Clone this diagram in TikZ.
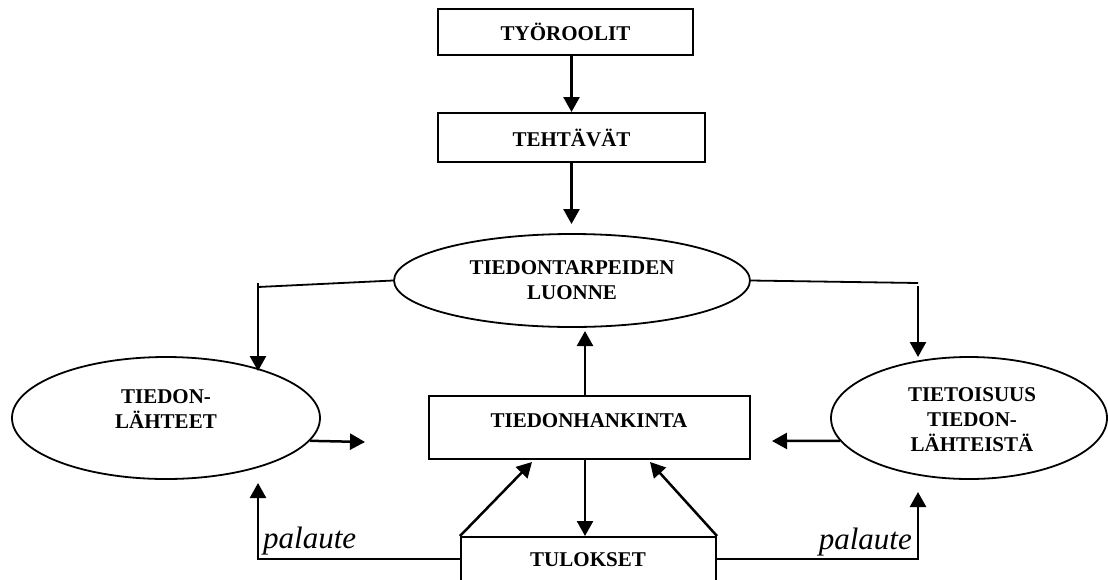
\documentclass[tikz,border=0pt]{standalone}
\usepackage{fontspec}
\setmainfont{Liberation Serif}
\usetikzlibrary{shapes.geometric,arrows.meta}
\begin{document}
\begin{tikzpicture}[x=1pt,y=-1pt,
  lbl/.style={font=\bfseries\fontsize{21}{25}\selectfont, align=center, inner sep=0pt},
  fbtext/.style={font=\itshape\fontsize{31}{36}\selectfont, inner sep=0pt},
  rectbox/.style={draw, line width=2pt, rectangle, inner sep=0pt},
  oval/.style={draw, line width=1.8pt, ellipse, inner sep=0pt},
  arr/.style={line width=2.5pt, -{Triangle[length=15pt,width=16pt]}},
  wire/.style={line width=1.8pt},
]
\useasboundingbox (0,0) rectangle (1108,579);
\clip (0,0) rectangle (1108,579);
\fill[white] (0,0) rectangle (1108,579);

% boxes
\node[rectbox, lbl, minimum width=255, minimum height=46] (roles) at (565.5,32) {TYÖROOLIT};
\node[rectbox, lbl, minimum width=267, minimum height=49] (tasks) at (571.5,137.5) {TEHTÄVÄT};
\node[rectbox, minimum width=321, minimum height=63] (hank) at (589.5,427.5) {};
\node[lbl] (hanktext) at (589,421) {TIEDONHANKINTA};
\node[rectbox, minimum width=255, minimum height=53] (tul) at (588.5,563.5) {};
\node[lbl] (tultext) at (588,560) {TULOKSET};

% ellipses
\node[oval, lbl, minimum width=356, minimum height=93] (tarve) at (572,280.5) {TIEDONTARPEIDEN\\LUONNE};
\node[oval, minimum width=308, minimum height=122] (ls) at (166,418) {};
\node[lbl] (lstext) at (166,409.5) {TIEDON-\\LÄHTEET};
\node[oval, minimum width=276, minimum height=122] (tl) at (969,418) {};
\node[lbl] (tltext) at (972,420) {TIETOISUUS\\TIEDON-\\LÄHTEISTÄ};

% vertical flow
\draw[arr] (tasks.north |- roles.south) -- (tasks.north);
\draw[arr] (tasks.south) -- ++(0,61);
\draw[arr] ([xshift=-4.5pt]hank.north) -- ++(0,-64);
\draw[arr] ([xshift=-4.5pt]hank.south) -- ([xshift=-4.5pt]hank.south |- tul.north);
\draw[arr] (tul.north west) -- ([xshift=-57.5pt,yshift=-2pt]hank.south);
\draw[arr] (tul.north east) -- ([xshift=60.5pt,yshift=-2pt]hank.south);

% branches from the needs ellipse
\coordinate (lbend) at (258,287);
\coordinate (ltop) at (258,283);
\coordinate (ltip) at (258,371);
\draw[wire] (tarve.west) -- (lbend);
\draw[arr] (ltop) -- (ltip);
\coordinate (rbend) at (918,283);
\coordinate (rtop) at (918,286);
\coordinate (rtip) at (918,357);
\draw[wire] (tarve.east) -- (rbend);
\draw[arr] (rtop) -- (rtip);

% side arrows towards the acquisition box
\coordinate (lstip) at (365,442);
\draw[arr] (ls.-9.6) -- (lstip);
\coordinate (tltip) at (772,441);
\draw[arr] (tl.190.2) -- (tltip);

% feedback loops
\coordinate (fbl) at (258,559);
\coordinate (fbltip) at (258,483);
\draw[arr] ([yshift=4.5pt]tul.west) -- (fbl) -- (fbltip);
\coordinate (fbr) at (918,559);
\coordinate (fbrtip) at (918,492);
\draw[arr] ([yshift=4.5pt]tul.east) -- (fbr) -- (fbrtip);
\node[fbtext, anchor=base west] (fbltext) at (263,548) {palaute};
\node[fbtext, anchor=base east] (fbrtext) at (912,549) {palaute};
\end{tikzpicture}
\end{document}
